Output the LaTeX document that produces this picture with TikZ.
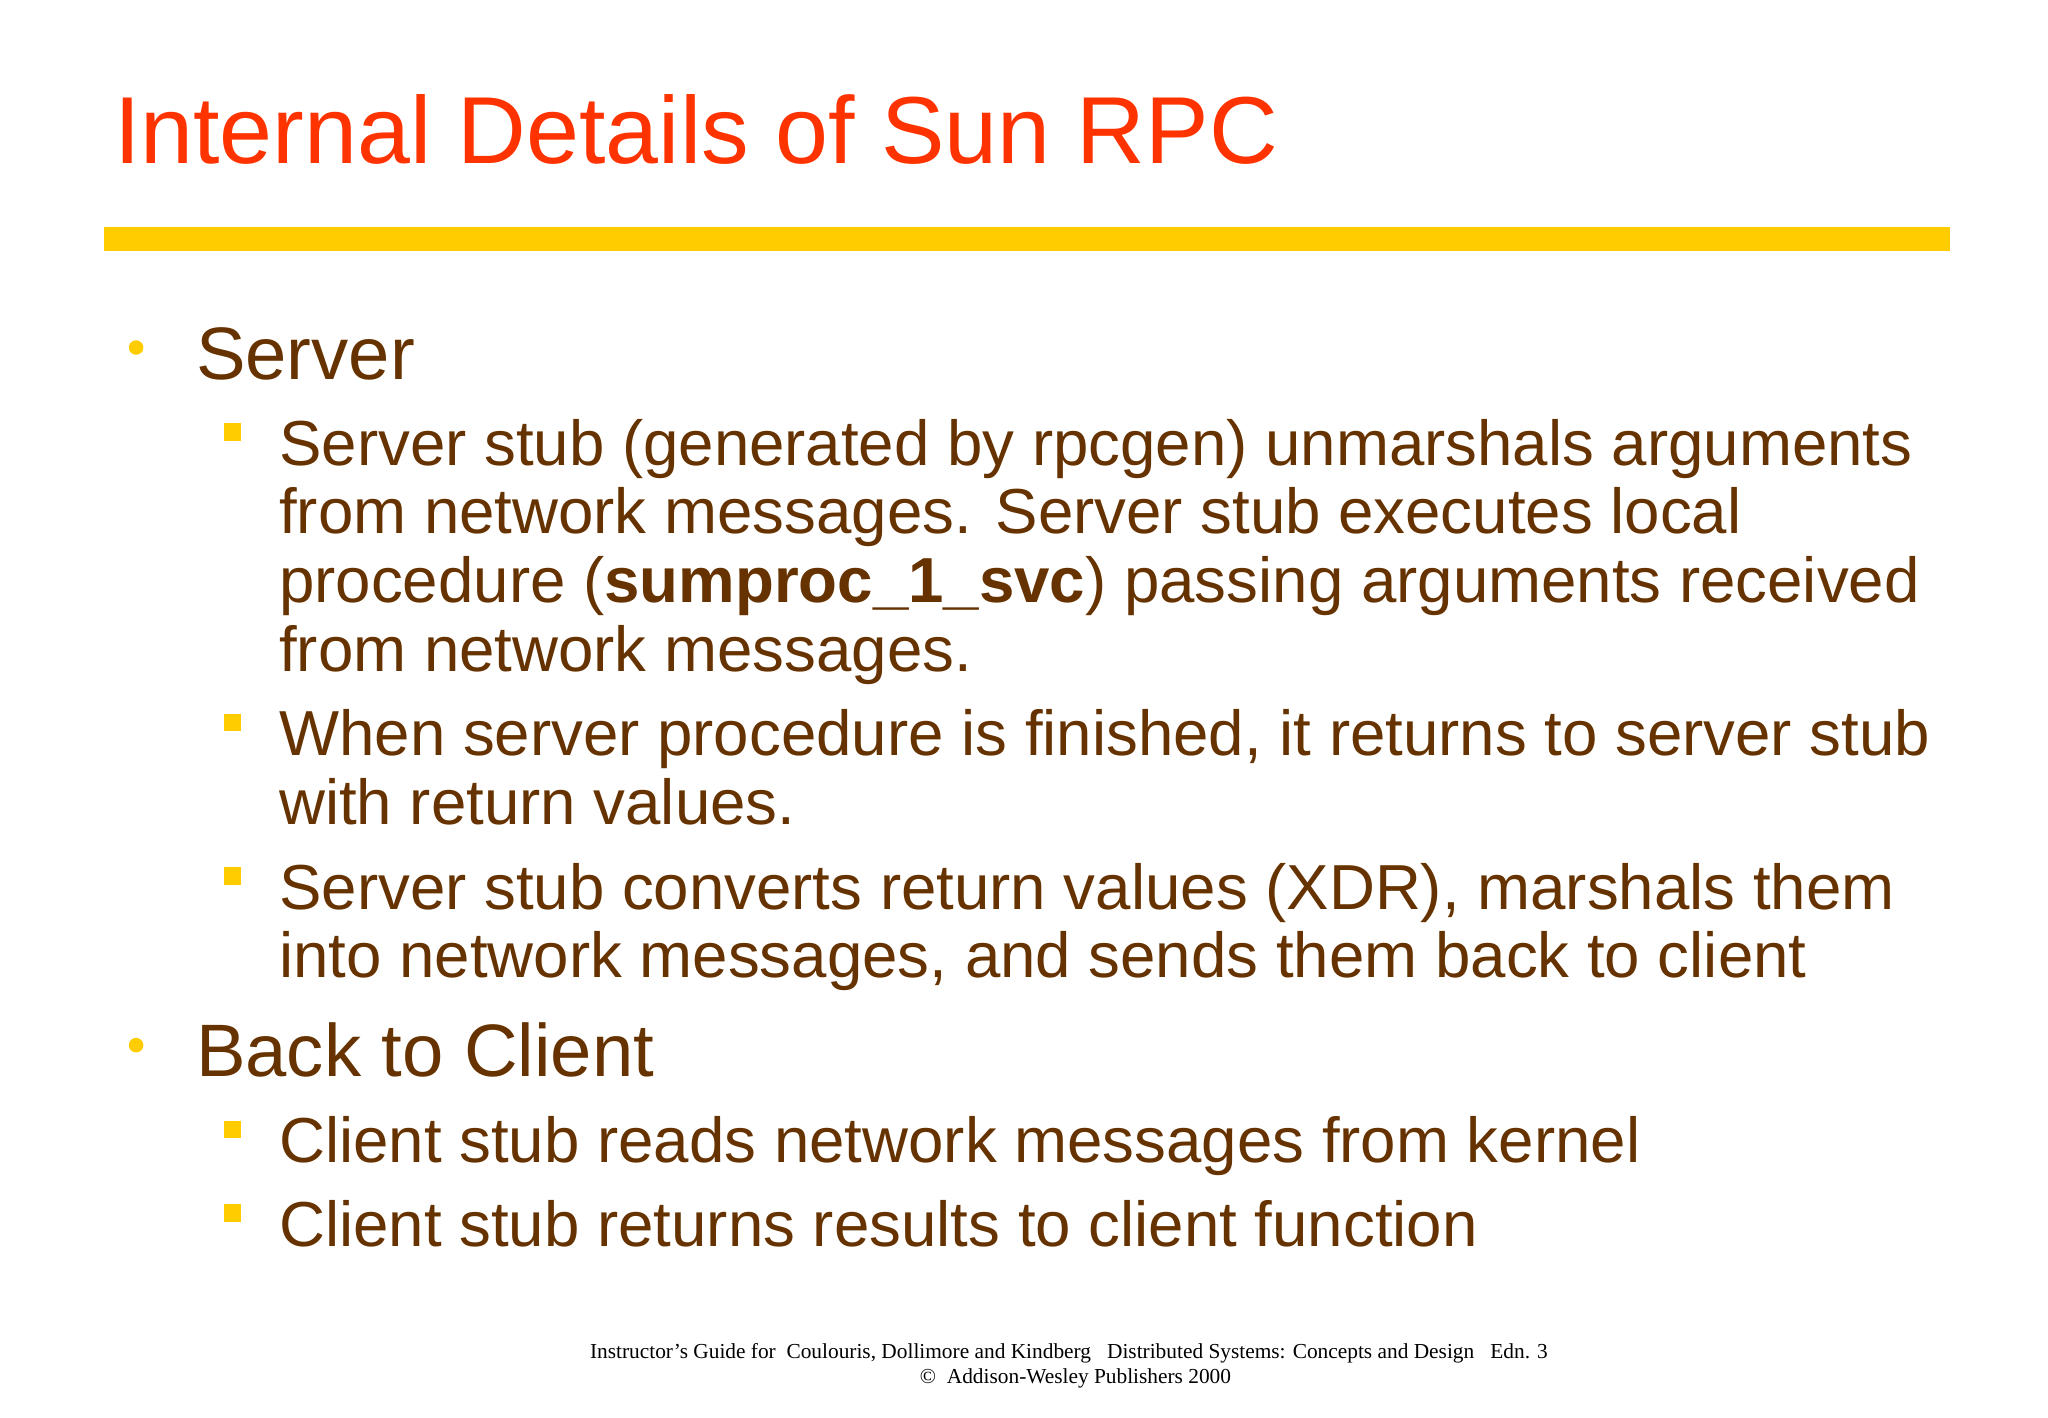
\documentclass[tikz,border=0pt]{standalone}
\usepackage{fontspec}
\setmainfont{Liberation Sans}
\newfontfamily\seriffont{Liberation Serif}
\definecolor{ttl}{HTML}{FF3300}
\definecolor{txt}{HTML}{663300}
\definecolor{yel}{HTML}{FFCC00}
\begin{document}
\begin{tikzpicture}[x=0.02cm,y=-0.02cm,
  ln/.style={anchor=base west,inner sep=0pt,text=txt,font=\fontsize{27.4}{30}\selectfont},
  l1/.style={anchor=base west,inner sep=0pt,text=txt,font=\fontsize{32}{36}\selectfont},
  dot/.style={circle,fill=yel,inner sep=0pt,minimum size=0.22cm},
  sq/.style={fill=yel,inner sep=0pt,minimum size=0.26cm},
  ft/.style={anchor=base,inner sep=0pt,font=\seriffont\fontsize{9.2}{10}\selectfont}]
\useasboundingbox[fill=white] (0,0) rectangle (1550,1073);
\node[anchor=base west,inner sep=0pt,text=ttl,font=\fontsize{41}{50}\selectfont] (title) at (86,124) {Internal Details of Sun RPC};
\fill[yel] (79,172) rectangle (1476,190);
\node[dot] (d1) at (103,263) {};
\node[l1] (s) at (148,287) {Server};
\node[sq] (q1) at (176,327) {};
\node[ln] (a1) at (211,352) {Server stub (generated by rpcgen) unmarshals arguments};
\node[ln] (a2) at (211,404) {from network messages. Server stub executes local};
\node[ln] (a3) at (211,456) {procedure (\textbf{sumproc\_1\_svc}) passing arguments received};
\node[ln] (a4) at (211,508) {from network messages.};
\node[sq] (q2) at (176,547) {};
\node[ln] (b1) at (211,572) {When server procedure is finished, it returns to server stub};
\node[ln] (b2) at (211,624) {with return values.};
\node[sq] (q3) at (176,663) {};
\node[ln] (c1) at (211,688) {Server stub converts return values (XDR), marshals them};
\node[ln] (c2) at (211,740) {into network messages, and sends them back to client};
\node[dot] (d2) at (103,791) {};
\node[l1] (bc) at (148,815) {Back to Client};
\node[sq] (q4) at (176,855) {};
\node[ln] (e1) at (211,880) {Client stub reads network messages from kernel};
\node[sq] (q5) at (176,918) {};
\node[ln] (f1) at (211,943) {Client stub returns results to client function};
\node[ft] (g1) at (809,1028) {Instructor’s Guide for\ \ Coulouris, Dollimore and Kindberg\ \ \ Distributed Systems: Concepts and Design\ \ \ Edn. 3};
\node[ft] (g2) at (814,1047) {©\ \ Addison-Wesley Publishers 2000};
\end{tikzpicture}
\end{document}
